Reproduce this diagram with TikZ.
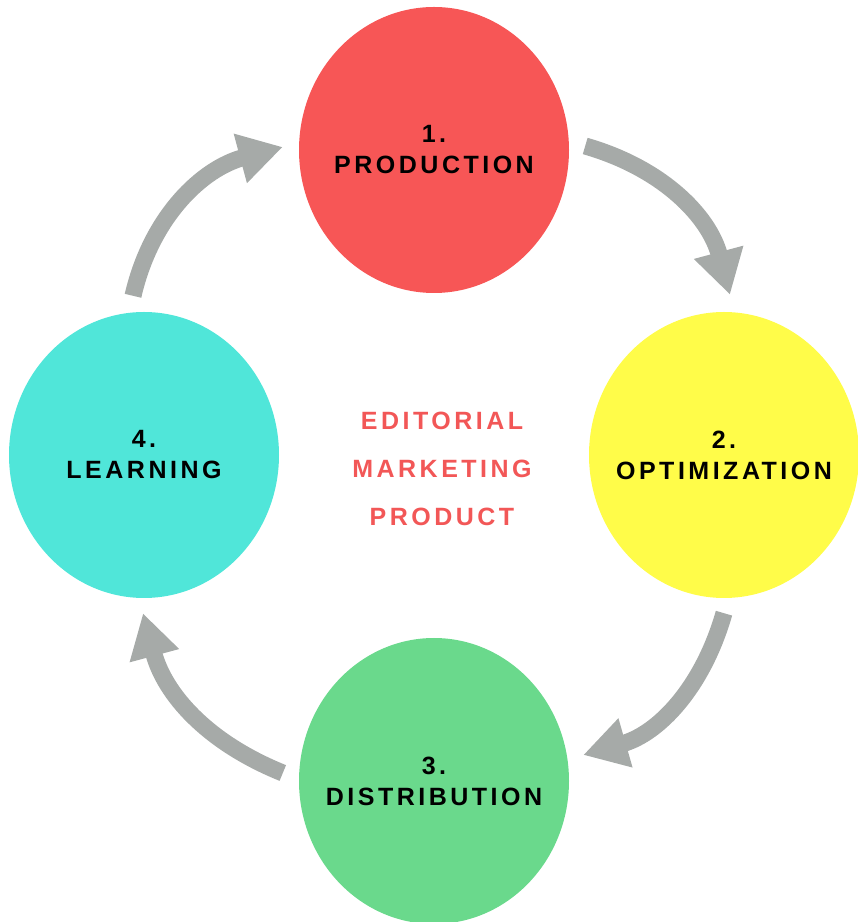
\documentclass[tikz,border=0pt]{standalone}
\usepackage{fontspec}
\setmainfont{Liberation Sans}
\newfontfamily\stagefont[LetterSpace=14]{Liberation Sans}
\usetikzlibrary{shapes.geometric,arrows.meta}

\definecolor{prodred}{HTML}{F75656}
\definecolor{optyellow}{HTML}{FFFC49}
\definecolor{distgreen}{HTML}{6AD98C}
\definecolor{learncyan}{HTML}{50E6D9}
\definecolor{flowgray}{HTML}{A6AAA8}
\definecolor{topicred}{HTML}{F25757}

\tikzset{
  stage/.style={ellipse, minimum width=270pt, minimum height=286pt, inner sep=0pt},
  stagetext/.style={align=center, font=\stagefont\bfseries\fontsize{25}{31}\selectfont},
  flow/.style={draw=flowgray, line width=17pt, -{Triangle[length=44pt,width=48pt]}}
}

\begin{document}
\begin{tikzpicture}[x=1pt,y=1pt]
  \useasboundingbox (0,0) rectangle (858,922);
  % The four stages
  \node[stage,fill=prodred,label={[stagetext]center:1.\\PRODUCTION}] (prod) at (434,772) {};
  \node[stage,fill=optyellow,label={[stagetext]center:2.\\OPTIMIZATION}] (opt) at (724,467) {};
  \node[stage,fill=distgreen,label={[stagetext]center:3.\\DISTRIBUTION}] (dist) at (434,141) {};
  \node[stage,fill=learncyan,label={[stagetext]center:4.\\LEARNING}] (learn) at (144,467) {};
  % Middle text
  \node[align=center, text=topicred, font=\stagefont\bfseries\fontsize{25}{48}\selectfont]
    (topics) at (442,453) {EDITORIAL\\MARKETING\\PRODUCT};
  % Arrows round the cycle
  \draw[flow] ([shift={(16,4)}]prod.east) to[out=-16,in=105] ([shift={(6,17)}]opt.north);
  \draw[flow] ([shift={(0,-15)}]opt.south) to[out=-106,in=16] ([shift={(14,26)}]dist.east);
  \draw[flow] ([shift={(-16,8)}]dist.west) to[out=158,in=-75] ([shift={(-1,-15)}]learn.south);
  \draw[flow] ([shift={(-11,16)}]learn.north) to[out=77,in=195] ([shift={(-16,3)}]prod.west);
\end{tikzpicture}
\end{document}
